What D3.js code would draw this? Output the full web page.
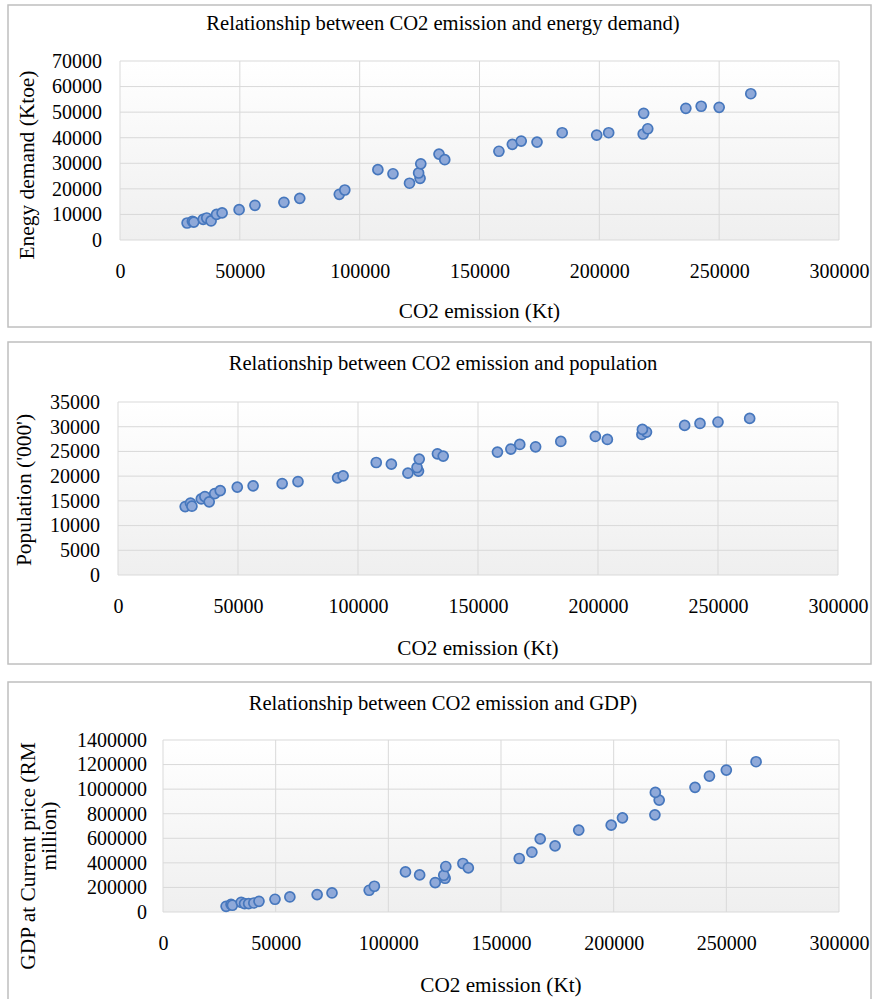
<!DOCTYPE html>
<html>
<head>
<meta charset="utf-8">
<script src="https://cdn.jsdelivr.net/npm/d3@7"></script>
<style>
  body { margin: 0; background: #fff; }
  text { font-family: "Liberation Serif", "Times New Roman", serif; fill: #000; }
</style>
</head>
<body>
<svg width="873" height="999"></svg>
<script>
// CO2 emission (Kt), shared by the three panels
const co2 = [28000, 30200, 30800, 34700, 36200, 38000, 40300, 42600, 49700, 56300,
  68400, 75000, 91500, 93800, 107600, 113900, 120800, 125200, 124600, 125500,
  133100, 135500, 158100, 163700, 167400, 174000, 184500, 198900, 203900, 218300,
  220200, 218500, 236100, 242500, 250000, 263200];

const energy = [6650, 7300, 7000, 8100, 8600, 7450, 10000, 10600, 11850, 13570,
  14740, 16300, 17870, 19550, 27500, 25900, 22200, 24100, 26200, 29800,
  33600, 31400, 34700, 37400, 38700, 38300, 41950, 41050, 41950, 41450,
  43500, 49550, 51500, 52300, 51900, 57200];

const population = [13850, 14530, 13920, 15400, 15870, 14800, 16480, 17080, 17770, 18040,
  18500, 18910, 19660, 20060, 22760, 22430, 20610, 21020, 21750, 23450,
  24520, 24060, 24870, 25480, 26410, 25940, 27020, 28030, 27420, 28430,
  28920, 29450, 30260, 30660, 30950, 31680];

const gdp = [46500, 62800, 55000, 79100, 68500, 68500, 73400, 87200, 103600, 122300,
  141900, 154900, 176900, 209600, 326200, 301700, 239700, 274800, 299200, 370200,
  394700, 358800, 435400, 486800, 595200, 538200, 666200, 707000, 766500, 790900,
  910800, 973600, 1014400, 1106500, 1155400, 1223100];

const xTicks = [0, 50000, 100000, 150000, 200000, 250000, 300000];
const energyTicks = [0, 10000, 20000, 30000, 40000, 50000, 60000, 70000];
const popTicks = [0, 5000, 10000, 15000, 20000, 25000, 30000, 35000];
const gdpTicks = [0, 200000, 400000, 600000, 800000, 1000000, 1200000, 1400000];

const titles = [
  "Relationship between CO2 emission and energy demand)",
  "Relationship between CO2 emission and population",
  "Relationship between CO2 emission and GDP)"
];
const yTitles = [["Enegy demand (Ktoe)"], ["Population ('000')"], ["GDP at Current price (RM", "million)"]];
const xTitle = "CO2 emission (Kt)";

const svg = d3.select("svg");
const fontSize = 20;

// the reference text is a bit wider than Liberation Serif, stretch it
function stretch(sel, k) {
  sel.each(function () {
    const len = this.getComputedTextLength();
    d3.select(this).attr("textLength", len * k).attr("lengthAdjust", "spacingAndGlyphs");
  });
}

const defs = svg.append("defs");
const grad = defs.append("linearGradient")
  .attr("id", "bg")
  .attr("x1", 0).attr("y1", 0).attr("x2", 0).attr("y2", 1);
grad.append("stop").attr("offset", "0%").attr("stop-color", "#ffffff");
grad.append("stop").attr("offset", "100%").attr("stop-color", "#efefef");

const panels = [
  { box: [8, 5, 863, 322], plot: [120, 61, 839, 240], values: energy, ticks: energyTicks,
    titleY: 23, xTitleY: 311, yTitleX: [27], yTitleY: [165], tickPad: 18 },
  { box: [8, 342, 863, 322], plot: [118, 402, 838, 575], values: population, ticks: popTicks,
    titleY: 363, xTitleY: 648, yTitleX: [24], yTitleY: [490], tickPad: 18 },
  { box: [8, 682, 863, 330], plot: [163, 740, 839, 912], values: gdp, ticks: gdpTicks,
    titleY: 703, xTitleY: 985, yTitleX: [28, 49], yTitleY: [856, 836], tickPad: 16 }
];

panels.forEach((p, i) => {
  const [x0, y0, x1, y1] = p.plot;

  svg.append("rect")
    .attr("x", p.box[0]).attr("y", p.box[1])
    .attr("width", p.box[2]).attr("height", p.box[3])
    .attr("fill", "#fff")
    .attr("stroke", "#bfbfbf")
    .attr("stroke-width", 1.5);

  const x = d3.scaleLinear().domain([0, 300000]).range([x0, x1]);
  const y = d3.scaleLinear().domain([0, d3.max(p.ticks)]).range([y1, y0]);

  svg.append("rect")
    .attr("x", x0).attr("y", y0)
    .attr("width", x1 - x0).attr("height", y1 - y0)
    .attr("fill", "url(#bg)");

  // gridlines
  svg.append("g").selectAll("line").data(p.ticks).join("line")
    .attr("x1", x0).attr("x2", x1)
    .attr("y1", d => y(d)).attr("y2", d => y(d))
    .attr("stroke", "#d9d9d9").attr("stroke-width", 1);
  svg.append("g").selectAll("line").data(xTicks).join("line")
    .attr("x1", d => x(d)).attr("x2", d => x(d))
    .attr("y1", y0).attr("y2", y1)
    .attr("stroke", "#d9d9d9").attr("stroke-width", 1);

  // axes
  const gx = svg.append("g")
    .attr("transform", `translate(0,${y1})`)
    .call(d3.axisBottom(x).tickValues(xTicks).tickSize(0).tickPadding(24).tickFormat(d3.format("d")));
  const gy = svg.append("g")
    .attr("transform", `translate(${x0},0)`)
    .call(d3.axisLeft(y).tickValues(p.ticks).tickSize(0).tickPadding(p.tickPad).tickFormat(d3.format("d")));
  [gx, gy].forEach(g => {
    g.select(".domain").remove();
    g.selectAll("text").attr("font-size", fontSize);
  });

  // points
  svg.append("g").selectAll("circle").data(co2).join("circle")
    .attr("cx", d => x(d))
    .attr("cy", (d, j) => y(p.values[j]))
    .attr("r", 5)
    .attr("fill", "#8fa9d9")
    .attr("stroke", "#4677bd")
    .attr("stroke-width", 1.7);

  // titles
  svg.append("text")
    .attr("x", 443).attr("y", p.titleY)
    .attr("dy", "0.35em")
    .attr("text-anchor", "middle")
    .attr("font-size", fontSize)
    .text(titles[i])
    .call(stretch, 1.03);

  svg.append("text")
    .attr("x", (x0 + x1) / 2).attr("y", p.xTitleY)
    .attr("dy", "0.35em")
    .attr("text-anchor", "middle")
    .attr("font-size", fontSize)
    .text(xTitle)
    .call(stretch, 1.06);

  yTitles[i].forEach((t, k) => {
    svg.append("text")
      .attr("transform", `translate(${p.yTitleX[k]},${p.yTitleY[k]}) rotate(-90)`)
      .attr("dy", "0.35em")
      .attr("text-anchor", "middle")
      .attr("font-size", fontSize)
      .text(t)
      .call(stretch, 1.07);
  });
});
</script>
</body>
</html>
